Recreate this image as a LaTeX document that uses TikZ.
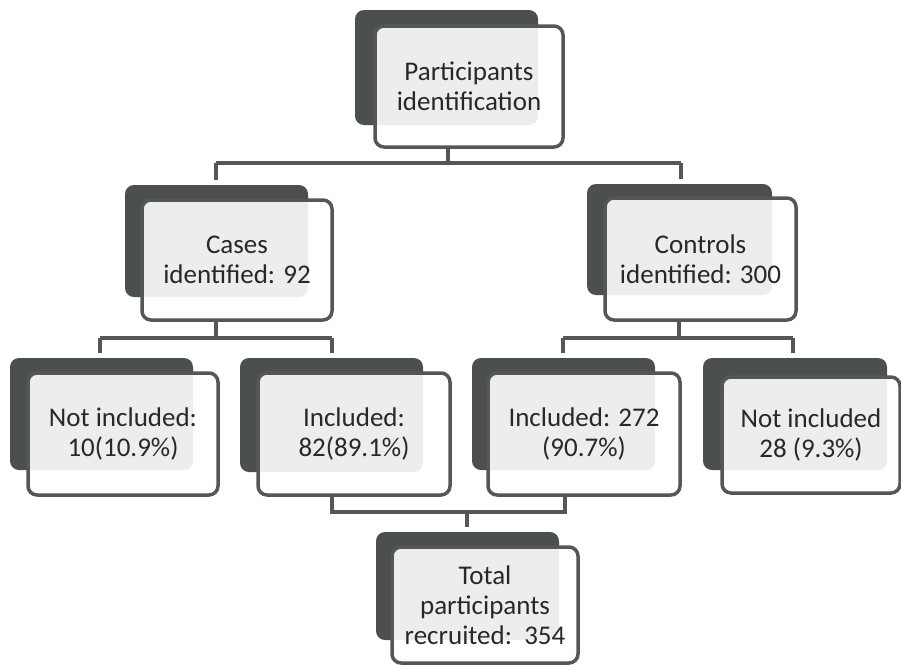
\documentclass[tikz,border=0pt]{standalone}
\usepackage{fontspec}
\setmainfont{Carlito}
\definecolor{shad}{HTML}{4B504D}
\definecolor{edgec}{HTML}{545755}
\definecolor{txt}{HTML}{262927}
\tikzset{
 shadowbox/.style={fill=shad, draw=none, rounded corners=9pt, inner sep=0pt},
 frontbox/.style={draw=edgec, line width=3.5pt, fill=white, fill opacity=0.9, text opacity=1,
   rounded corners=9pt, inner sep=0pt, align=center, text=txt,
   font=\fontsize{27}{30}\selectfont},
 conn/.style={draw=edgec, line width=4.5pt},
 stub/.style={conn, shorten >=5pt},
}
\begin{document}
\begin{tikzpicture}[x=1pt,y=-1pt]
\useasboundingbox (0,0) rectangle (901,665);
% shadows
\node[shadowbox, minimum width=183pt, minimum height=115pt] (s-top) at (446.5,67.5) {};
\node[shadowbox, minimum width=183pt, minimum height=112pt] (s-cases) at (216.5,241) {};
\node[shadowbox, minimum width=185pt, minimum height=111pt] (s-ctrl) at (679.5,239.5) {};
\node[shadowbox, minimum width=183pt, minimum height=112pt] (s-ni1) at (101.5,414) {};
\node[shadowbox, minimum width=183pt, minimum height=114pt] (s-inc1) at (331.5,415) {};
\node[shadowbox, minimum width=183pt, minimum height=112pt] (s-inc2) at (563.5,414) {};
\node[shadowbox, minimum width=184pt, minimum height=112pt] (s-ni2) at (795,414) {};
\node[shadowbox, minimum width=183pt, minimum height=108pt] (s-tot) at (467.5,586) {};
% front boxes
\node[frontbox, minimum width=188pt, minimum height=121pt] (top) at (469,86.5) {Participants\\identification};
\node[frontbox, minimum width=190pt, minimum height=120pt] (cases) at (237,260) {Cases\\identified: 92};
\node[frontbox, minimum width=191pt, minimum height=122pt] (ctrl) at (700.5,259) {Controls\\identified: 300};
\node[frontbox, minimum width=190pt, minimum height=122pt] (ni1) at (123,434) {Not included:\\10(10.9\%)};
\node[frontbox, minimum width=192pt, minimum height=122pt] (inc1) at (354,434) {Included:\\82(89.1\%)};
\node[frontbox, minimum width=192pt, minimum height=122pt] (inc2) at (584,434) {Included: 272\\(90.7\%)};
\node[frontbox, minimum width=178pt, minimum height=116pt] (ni2) at (811,435) {Not included\\28 (9.3\%)};
\node[frontbox, minimum width=186pt, minimum height=116pt] (tot) at (485,605) {Total\\participants\\recruited:~~354};
% junction coordinates
\coordinate (j0) at (448,163);
\coordinate (a1) at (216,163);
\coordinate (a2) at (681,163);
\coordinate (jl) at (216,338);
\coordinate (l1) at (100,338);
\coordinate (l2) at (332,338);
\coordinate (jr) at (679,338);
\coordinate (r1) at (563,338);
\coordinate (r2) at (793,338);
\coordinate (b1) at (332,512);
\coordinate (b2) at (565,512);
\coordinate (bt) at (467,512);
% connectors
\draw[conn] (top.south -| j0) -- (j0);
\draw[conn] (a1) -- (a2);
\draw[stub] (a1) -- (s-cases.north -| a1);
\draw[stub] (a2) -- (s-ctrl.north -| a2);
\draw[conn] (cases.south -| jl) -- (jl);
\draw[conn] (l1) -- (l2);
\draw[stub] (l1) -- (s-ni1.north -| l1);
\draw[stub] (l2) -- (s-inc1.north -| l2);
\draw[conn] (ctrl.south -| jr) -- (jr);
\draw[conn] (r1) -- (r2);
\draw[stub] (r1) -- (s-inc2.north -| r1);
\draw[stub] (r2) -- (s-ni2.north -| r2);
\draw[conn] (inc1.south -| b1) -- (b1) -- (b2) -- (inc2.south -| b2);
\draw[stub] (bt) -- (s-tot.north -| bt);
\end{tikzpicture}
\end{document}
